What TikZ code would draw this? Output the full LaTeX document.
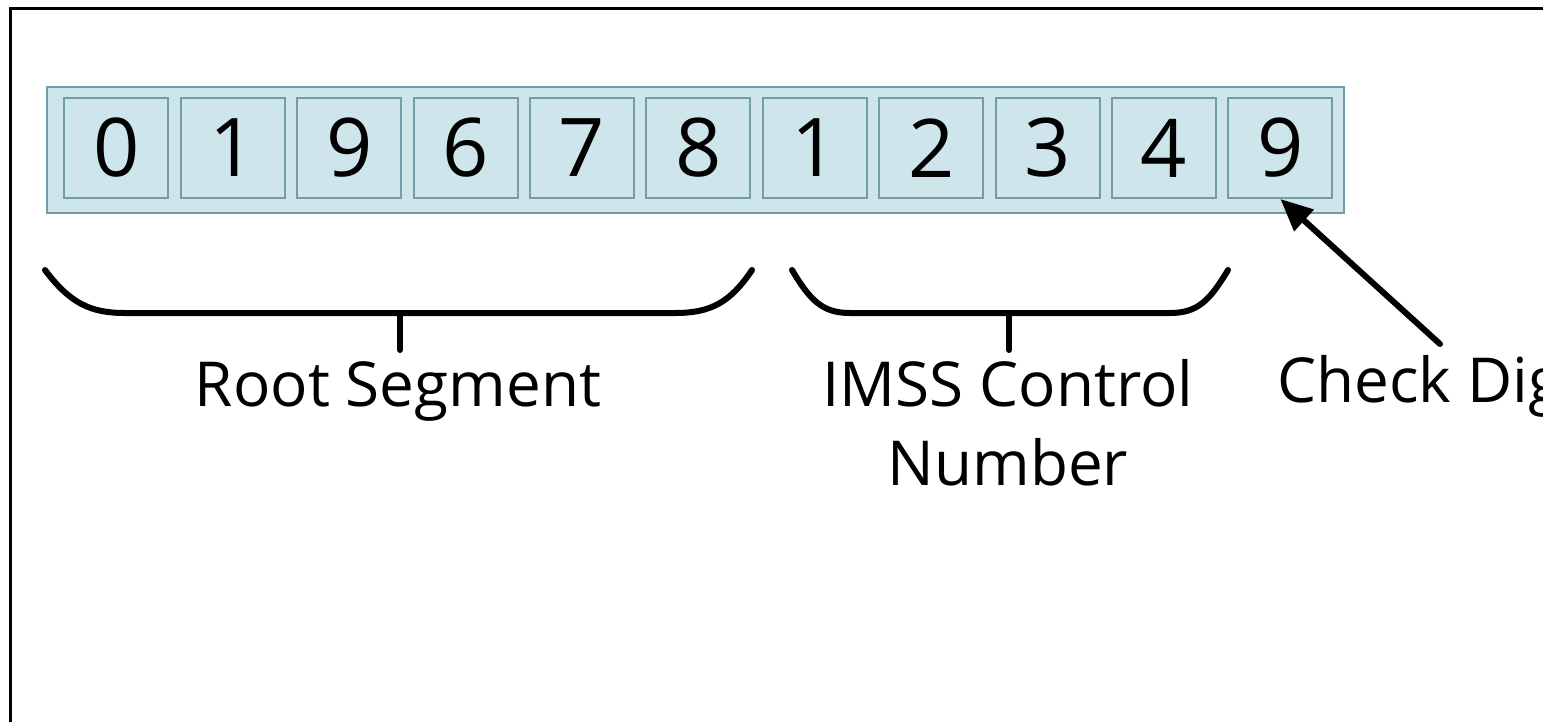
\documentclass[tikz,border=0pt]{standalone}
\usepackage{fontspec}
\setmainfont{Open Sans}
\usetikzlibrary{arrows.meta}
\definecolor{cellfill}{RGB}{206,229,235}
\definecolor{celldraw}{RGB}{112,157,167}
\tikzset{
  strip/.style={draw=celldraw, line width=2pt, fill=cellfill, minimum width=1297pt, minimum height=126pt, inner sep=0pt},
  cell/.style={draw=celldraw, line width=2pt, fill=cellfill, minimum width=104pt, minimum height=100pt, inner sep=0pt, font=\fontsize{81}{97}\selectfont},
  lbl/.style={font=\fontsize{62}{79}\selectfont, inner sep=0pt},
  brace/.style={line width=6pt, line cap=round, line join=round},
  pointer/.style={line width=6pt, line cap=round, -{Triangle[length=32pt,width=28pt]}}
}
\begin{document}
\begin{tikzpicture}[x=1pt,y=-1pt]
\clip (0,0) rectangle (1543,721);
\draw[line width=3pt] (10.5,8.5) rectangle (1600,780);
\node[strip] (strip) at (695.5,150) {};
\foreach \d [count=\i] in {0,1,9,6,7,8,1,2,3,4,9} {
  \node[cell] (c\i) at ({116.4+(\i-1)*116.4},148) {\d};
}
% Root segment brace
\draw[brace] (45,270) .. controls (70,303) and (90,313) .. (125,313) -- (675,313) .. controls (710,313) and (730,303) .. (752,270);
\draw[brace] (400,313) -- (400,350);
% IMSS brace
\draw[brace] (792,270) .. controls (810,300) and (822,313) .. (850,313) -- (1170,313) .. controls (1198,313) and (1210,300) .. (1228,270);
\draw[brace] (1009,313) -- (1009,350);
\node[lbl, anchor=base] (root) at (398,406) {Root Segment};
\node[lbl, anchor=base, align=center] (imss) at (1008,485) {IMSS Control\\Number};
\node[lbl, anchor=base west] (chk) at (1277,402) {Check Digit};
\coordinate (chkstart) at (1440,344);
\draw[pointer] (chkstart) -- (c11.south);
\end{tikzpicture}
\end{document}
